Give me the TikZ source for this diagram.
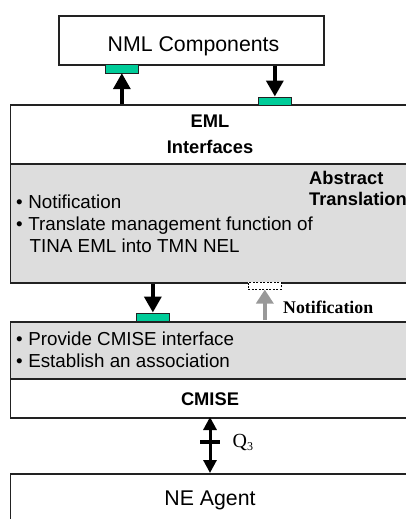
\documentclass[tikz,border=0pt]{standalone}
\usepackage{fontspec}
\setmainfont{Liberation Sans}
\newfontfamily\seriffont{Liberation Serif}
\usetikzlibrary{arrows.meta}
\definecolor{tabgreen}{HTML}{00CC99}
\definecolor{panelgray}{HTML}{DDDDDD}
\definecolor{linegray}{HTML}{222222}
\definecolor{arrgray}{HTML}{999999}
\tikzset{
  box/.style={draw=linegray, line width=1.6pt, inner sep=0pt, anchor=north west},
  tabbox/.style={draw=linegray, line width=0.7pt, fill=tabgreen, inner sep=0pt, minimum width=33pt, minimum height=8.5pt, anchor=north west},
  dashbox/.style={draw=black, line width=0.6pt, dashed, dash pattern=on 2pt off 1.5pt, fill=white, inner sep=0pt, minimum width=33pt, minimum height=7pt, anchor=north west},
  fatarrow/.style={line width=3.6pt, -{Triangle[width=17pt,length=16pt]}},
  grayarrow/.style={arrgray, line width=4pt, -{Triangle[width=17pt,length=14pt]}},
  qarrow/.style={line width=3pt, {Triangle[width=13pt,length=13pt]}-{Triangle[width=13pt,length=13pt]}},
  bigtxt/.style={font=\fontsize{21.3}{24}\selectfont, anchor=base, inner sep=0pt},
  txt/.style={font=\fontsize{18.8}{22}\selectfont, anchor=base west, inner sep=0pt},
  btxt/.style={font=\fontsize{18.3}{22}\selectfont\bfseries, anchor=base, inner sep=0pt},
}
\begin{document}
\begin{tikzpicture}[x=1pt,y=-1pt]
\useasboundingbox (0,0) rectangle (406,519);
\clip (0,0) rectangle (406,519);
% boxes
\node[box, minimum width=265pt, minimum height=49pt] (nml) at (58,15) {};
\node[box, fill=white, minimum width=420pt, minimum height=59pt] (emltop) at (9.5,104) {};
\node[box, fill=panelgray, minimum width=420pt, minimum height=119pt] (emlbot) at (9.5,163) {};
\node[box, fill=panelgray, minimum width=420pt, minimum height=57pt] (cmtop) at (9.5,321) {};
\node[box, fill=white, minimum width=420pt, minimum height=39pt] (cmbot) at (9.5,378) {};
\node[box, minimum width=420pt, minimum height=80pt] (ne) at (9.5,473) {};
% tabs
\node[tabbox] (tab1) at (105,64) {};
\node[tabbox] (tab2) at (258,96.5) {};
\node[tabbox] (tab3) at (136,312.5) {};
\node[dashbox] (dash) at (248,282) {};
% arrows
\draw[fatarrow] (tab1.south |- emltop.north) -- (tab1.south);
\draw[fatarrow] (tab2.north |- nml.south) -- (tab2.north);
\draw[fatarrow] (tab3.north |- emlbot.south) -- (tab3.north);
\draw[grayarrow] (dash.south |- cmtop.north) ++(0,-1) -- (dash.south);
\coordinate (qtop) at (210,417);
\coordinate (qbot) at (210,473);
\draw[qarrow] (qtop) -- (qbot);
\draw[line width=4pt] (200,442) -- (220,442);
% texts
\node[bigtxt] (nmlt) at (193.5,52) {NML Components};
\node[btxt] (emlt) at (210,127) {EML};
\node[btxt] (intt) at (210,153) {Interfaces};
\node[btxt, anchor=base west] (abst) at (309,184) {Abstract};
\node[btxt, anchor=base west] (trt) at (309,205.5) {Translation};
\node[txt] (b1) at (16,208) {•\hspace{5.5pt}Notification};
\node[txt] (b2) at (16,230) {•\hspace{5.5pt}Translate management function of};
\node[txt] (b3) at (29.5,252) {TINA EML into TMN NEL};
\node[txt] (b4) at (16,345.5) {•\hspace{5.5pt}Provide CMISE interface};
\node[txt] (b5) at (16,367.5) {•\hspace{5.5pt}Establish an association};
\node[btxt] (cmt) at (210,405) {CMISE};
\node[bigtxt] (net) at (210,505) {NE Agent};
\node[anchor=base west, inner sep=0pt, font=\fontsize{17.8}{20}\selectfont\seriffont\bfseries] (notif) at (283,313) {Notification};
\node[anchor=base west, inner sep=0pt, font=\fontsize{20}{22}\selectfont\seriffont] (q3) at (232.5,447.5) {Q\raisebox{-3pt}{\fontsize{12}{13}\selectfont 3}};
\end{tikzpicture}
\end{document}
